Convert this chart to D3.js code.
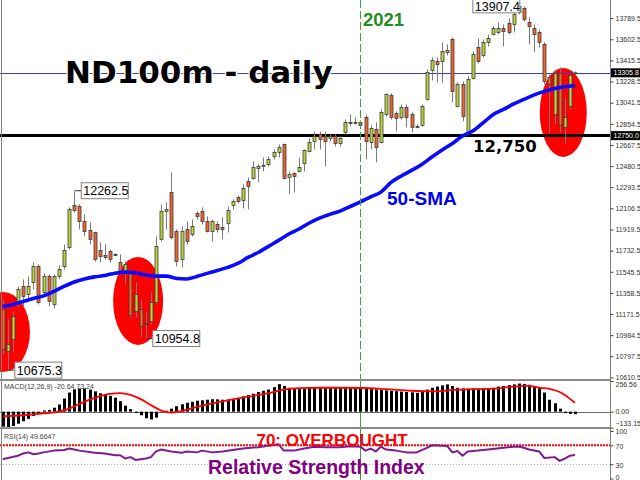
<!DOCTYPE html>
<html><head><meta charset="utf-8">
<script src="https://cdn.jsdelivr.net/npm/d3@7"></script>
<style>body{margin:0;background:#fff;}svg{display:block;font-family:"Liberation Sans",Arial,sans-serif;}</style>
</head><body><svg id="chart" width="640" height="480"></svg>
<script>
// ---------- DATA ----------
const opens = [11212,10840,10947,11274,11416,11345,11451,11593,11363,11504,
11256,11504,11593,11761,12132,12124,11991,11911,11893,11734,
11690,11725,11699,11628,11540,11540,11194,11212,11079,11106,
11274,11832,12079,12247,11902,11655,11920,11876,12062,12079,
11991,11902,11964,11938,11973,12132,12203,12177,12345,12371,
12460,12486,12495,12566,12601,12672,12380,12415,12433,12504,
12610,12699,12761,12743,12725,12743,12681,12778,12867,12867,
12867,12911,12690,12805,12690,12938,13106,12946,12911,12999,
12938,12831,12840,13070,13327,13406,13406,13486,13601,13008,
13203,12778,13256,13530,13460,13575,13645,13663,13698,13743,
13734,13840,13875,13752,13698,13663,13557,13265,12938,13300,
12823,13008,13300];
const highs = [11300,11124,11194,11416,11478,11504,11628,11610,11531,11522,
11522,11601,11787,12115,12262.5,12141,12053,11982,11900,11805,
11787,11743,11708,11699,11637,11566,11451,11301,11194,11363,
11858,12141,12159,12424,11920,11947,11991,12008,12079,12115,
12035,12008,11991,12026,12124,12185,12221,12318,12380,12522,
12495,12557,12566,12628,12672,12680,12433,12424,12557,12628,
12725,12787,12787,12787,12761,12761,12743,12893,12938,12911,
12884,12938,12840,12867,12982,13123,13123,12964,13026,13026,
12955,12849,13026,13336,13442,13442,13575,13557,13619,13221,
13230,13274,13495,13610,13601,13645,13716,13752,13734,13787,
13849,13907.4,13893,13796,13734,13690,13575,13291,13336,13353,
13088,13291,13318];
const lows = [10814,10675.3,10840,11239,11239,11301,11389,11256,11327,11239,
11221,11478,11566,11743,12070,11920,11858,11787,11637,11628,
11655,11628,11690,11522,11433,11141,11141,10973,10954.8,11079,
11256,11814,11920,11832,11593,11584,11787,11858,12008,11964,
11893,11814,11893,11832,11893,12097,12150,12106,12097,12362,
12336,12433,12477,12539,12557,12362,12230,12247,12424,12433,
12601,12628,12628,12477,12699,12654,12654,12761,12831,12849,
12823,12539,12628,12513,12681,12920,12893,12787,12893,12823,
12778,12814,12831,13061,13238,13221,13221,13460,13044,12999,
12876,12769,13247,13389,13442,13539,13637,13645,13539,13645,
13663,13822,13760,13557,13486,13530,13203,12778,12849,12778,
12672,12982,13290];
const closes = [10858,10902,11150,11389,11327,11416,11593,11274,11504,11283,
11504,11566,11734,12097,12088,11991,11902,11832,11655,11681,
11672,11655,11696,11540,11610,11159,11345,11062,11088,11274,
11770,12079,12097,11849,11637,11902,11814,11947,12035,11991,
11902,11991,11920,11920,12088,12168,12168,12283,12300,12469,
12477,12488,12539,12601,12645,12371,12407,12389,12469,12619,
12690,12743,12716,12699,12743,12681,12725,12867,12866,12868,
12840,12699,12814,12645,12955,13114,12911,12902,12999,12911,
12823,12829,13008,13309,13415,13380,13495,13504,13141,13203,
12920,13247,13468,13406,13575,13610,13698,13698,13672,13663,
13822,13893,13778,13716,13645,13575,13230,13203,13300,12840,
12911,13283,13305.8];

const smaIndex = [0,2,4,6,8,10,12,14,16,18,20,22,24,26,28,30,32,34,36,38,40,42,44,46,48,50,52,54,56,58,60,62,64,66,68,70,72,74,76,78,80,82,84,86,88,90,92,94,96,98,100,102,104,106,108,110,112];
const smaValue = [11239,11256,11283,11309,11332,11371,11416,11455,11482,11500,11513,11533,11542,11537,11517,11507,11507,11486,11482,11504,11531,11557,11584,11619,11672,11716,11770,11823,11880,11924,11977,12020,12053,12082,12123,12163,12208,12250,12336,12393,12442,12495,12561,12623,12681,12747,12790,12862,12937,12982,13030,13070,13110,13141,13168,13183,13194];

const macdHist = [-125,-130,-120,-100,-80,-60,-35,-12,10,15,
33,60,110,160,187,194,194,185,170,154,
147,132,117,88,50,22,-10,-30,-55,-65,
-50,-5,8,25,45,62,75,82,92,95,
100,104,103,100,102,108,115,128,140,150,
165,175,185,205,230,215,200,192,188,190,
200,205,205,203,205,205,205,207,206,205,
204,200,195,185,182,178,175,172,168,165,
162,158,165,185,200,210,220,228,215,200,
195,192,195,193,195,195,200,210,215,222,
228,235,232,225,210,198,160,100,70,25,
-12,-18,-20.64];
const signalIndex = [0,4,8,11,13,15,18,21,23,25,27,29,31,33,35,38,41,44,48,52,55,58,62,66,70,75,80,85,88,92,96,100,103,105,107,109,110,112];
const signalValue = [-40,-30,-15,0,25,65,115,148,155,140,105,55,10,-8,5,40,70,95,125,155,185,197,200,200,198,188,175,170,182,188,192,210,215,200,190,165,140,73.24];

const rsiIndex = [0,1,3,4,5,6,7,8,10,12,13,14,15,18,20,22,23,24,25,26,28,29,30,31,33,35,36,38,39,41,43,45,47,50,52,54,55,57,59,61,63,66,68,70,71,72,73,74,75,77,79,81,83,84,86,87,88,89,90,91,93,95,98,100,101,102,103,105,106,108,109,110,111,112];
const rsiValue = [40.7,43,48,52.7,55,51,52.7,55,58.7,60,63,61,58.7,54,52.7,49,49,42,45,39,42,45,57,61,57,54,57,55,58.7,55,57,60,63,66,69,72,58.7,58.7,63,67,66,66,68,67,58.7,63,57,67,61,58.7,55,55,64.6,70,69,68,55,58,48,57,58.7,61,64.6,67,67.5,64.6,61,57,43,45,37,42,48,49.6647];

const priceTicks = [10610.5,10797.5,10984.5,11171.5,11358.5,11545.5,11732.5,11919.5,12106.5,12293.5,12480.5,12667.5,12854.5,13041.5,13228.5,13415.5,13602.5,13789.5];
const macdTicks = [256.56, 0, -133.15];
const rsiTicks = [100, 70, 30, 0];

const markIndex = [1, 28, 14, 101];
const markPrice = [10675.3, 10954.8, 12262.5, 13907.4];
const markSide = ["right", "right", "right", "left"];

const circleIndex = [0.05, 26.5, 109.7];
const circlePrice = [11012, 11287, 12955];

const supportLevel = 12750;
const lastPrice = 13305.8;
const yearStartIndex = 70;
const yearLabel = "2021";

// ---------- SCALES ----------
const svg = d3.select("#chart");
const AX = 610.5;
const n = opens.length;
const x = d3.scaleBand().domain(d3.range(n)).range([0.145, 0.145 + n * 5.11]);
const cx = i => x(0) + x.step() * (i + 0.5);
const y = d3.scaleLinear().domain([10596.6, 13950]).range([379, 0]);
const yM = d3.scaleLinear().domain([-133.15, 256.56]).range([427.6, 381]);
const yR = d3.scaleLinear().domain([0, 100]).range([478.5, 431]);

svg.append("rect").attr("width", 640).attr("height", 480).attr("fill", "#fff");
const defs = svg.append("defs");
defs.append("clipPath").attr("id", "mainClip").append("rect").attr("x", 0).attr("y", 0).attr("width", AX).attr("height", 379);
defs.append("clipPath").attr("id", "macdClip").append("rect").attr("x", 0).attr("y", 381).attr("width", AX).attr("height", 46.5);
defs.append("clipPath").attr("id", "rsiClip").append("rect").attr("x", 0).attr("y", 429).attr("width", AX).attr("height", 51);

// ---------- MAIN PANEL ----------
const g = svg.append("g").attr("clip-path", "url(#mainClip)");

const radii = [[27, 40], [25, 44], [23.5, 44.5]];
g.selectAll("ellipse.hl").data(circleIndex.map((c, k) => ({i: c, p: circlePrice[k], r: radii[k]})))
  .join("ellipse").attr("cx", d => cx(d.i)).attr("cy", d => y(d.p))
  .attr("rx", d => d.r[0]).attr("ry", d => d.r[1]).attr("fill", "#ff0000");

g.append("line").attr("x1", 0).attr("x2", AX).attr("y1", Math.round(y(lastPrice)) + 0.5).attr("y2", Math.round(y(lastPrice)) + 0.5)
  .attr("stroke", "#3c3cc8").attr("stroke-width", 1);
g.append("line").attr("x1", 0).attr("x2", AX).attr("y1", y(supportLevel)).attr("y2", y(supportLevel))
  .attr("stroke", "#000").attr("stroke-width", 3);

const yx = Math.round(cx(yearStartIndex)) + 0.5;
svg.append("line").attr("x1", yx).attr("x2", yx).attr("y1", 0).attr("y2", 379)
  .attr("stroke", "#3aa63a").attr("stroke-width", 1).attr("stroke-dasharray", "8,3");
svg.append("line").attr("x1", yx).attr("x2", yx).attr("y1", 381).attr("y2", 480)
  .attr("stroke", "#3aa63a").attr("stroke-width", 1);

const cg = g.append("g");
const idx = d3.range(n);
cg.selectAll("line.w").data(idx).join("line")
  .attr("x1", i => Math.round(cx(i)) + 0.5).attr("x2", i => Math.round(cx(i)) + 0.5)
  .attr("y1", i => y(highs[i])).attr("y2", i => y(lows[i]))
  .attr("stroke", "#7a7a7a").attr("stroke-width", 1);
cg.selectAll("rect.b").data(idx).join("rect")
  .attr("x", i => Math.round(cx(i)) - 1)
  .attr("width", 3)
  .attr("y", i => y(Math.max(opens[i], closes[i])))
  .attr("height", i => Math.max(1, Math.abs(y(opens[i]) - y(closes[i]))))
  .attr("fill", i => closes[i] >= opens[i] ? "#bcd43a" : "#f0652b")
  .attr("stroke", "#3a3a3a").attr("stroke-width", 0.8);

const smaPts = smaIndex.map((k, j) => [cx(k), y(smaValue[j])]);
g.append("path").attr("d", d3.line().curve(d3.curveMonotoneX)(smaPts))
  .attr("fill", "none").attr("stroke", "#0a0aff").attr("stroke-width", 3.6).attr("stroke-linejoin", "round");

// high / low labels
markIndex.forEach((mi, k) => {
  const px = cx(mi), py = y(markPrice[k]);
  const bw = 47, bh = 16;
  const bx = markSide[k] === "right" ? px + 7 : px - bw + 1;
  const ex = markSide[k] === "right" ? bx : bx + bw;
  const by = Math.max(py - bh / 2, -4);
  const ty = Math.max(py + 4.5, 10.5);
  svg.append("path").attr("d", `M${px + 1},${py} H${ex}`).attr("stroke", "#333").attr("fill", "none");
  svg.append("rect").attr("x", bx).attr("y", by).attr("width", bw).attr("height", bh)
    .attr("fill", "#fff").attr("stroke", "#808080").attr("stroke-width", 1);
  svg.append("text").attr("x", bx + 2).attr("y", ty).attr("font-size", 12.5).attr("fill", "#000")
    .text(d3.format(".1f")(markPrice[k]));
});

// annotations
svg.append("text").attr("x", 65).attr("y", 83).attr("font-family", "DejaVu Sans").attr("font-weight", "bold")
  .attr("font-size", 31).attr("fill", "#000").attr("stroke", "#fff").attr("stroke-width", 2.5)
  .attr("paint-order", "stroke").text("ND100m - daily");
svg.append("text").attr("x", 363).attr("y", 26).attr("font-weight", "bold").attr("font-size", 18.5)
  .attr("fill", "#238c23").text(yearLabel);
svg.append("text").attr("x", 473).attr("y", 152).attr("font-family", "DejaVu Sans").attr("font-weight", "bold")
  .attr("font-size", 16.5).attr("fill", "#000").text(d3.format(",")(supportLevel));
svg.append("text").attr("x", 387).attr("y", 205).attr("font-weight", "bold").attr("font-size", 19)
  .attr("fill", "#0000ee").text("50-SMA");

// ---------- MACD PANEL ----------
const gm = svg.append("g").attr("clip-path", "url(#macdClip)");
gm.append("line").attr("x1", 0).attr("x2", AX).attr("y1", Math.round(yM(0)) + 0.5).attr("y2", Math.round(yM(0)) + 0.5)
  .attr("stroke", "#6a6a6a").attr("stroke-width", 1);
gm.selectAll("rect.h").data(idx).join("rect")
  .attr("x", i => Math.round(cx(i)) - 1).attr("width", 3)
  .attr("y", i => Math.min(yM(0), yM(macdHist[i])))
  .attr("height", i => Math.abs(yM(macdHist[i]) - yM(0)))
  .attr("fill", "#000");
gm.append("path").attr("d", d3.line().curve(d3.curveMonotoneX)(signalIndex.map((k, j) => [cx(k), yM(signalValue[j])])))
  .attr("fill", "none").attr("stroke", "#ff0000").attr("stroke-width", 1.8);
svg.append("text").attr("x", 4).attr("y", 389).attr("font-size", 7).attr("fill", "#404040")
  .text(`MACD(12,26,9) ${macdHist[n - 1]} ${signalValue[signalValue.length - 1]}`);

// ---------- RSI PANEL ----------
const gr = svg.append("g").attr("clip-path", "url(#rsiClip)");
gr.append("line").attr("x1", 0).attr("x2", AX).attr("y1", yR(70)).attr("y2", yR(70))
  .attr("stroke", "#ff0000").attr("stroke-width", 2).attr("stroke-dasharray", "2,1");
gr.append("line").attr("x1", 0).attr("x2", AX).attr("y1", Math.round(yR(30)) + 0.5).attr("y2", Math.round(yR(30)) + 0.5)
  .attr("stroke", "#b0b0b0").attr("stroke-width", 1).attr("stroke-dasharray", "1,2");
gr.append("path").attr("d", d3.line()(rsiIndex.map((k, j) => [cx(k), yR(rsiValue[j])])))
  .attr("fill", "none").attr("stroke", "#7f1a90").attr("stroke-width", 2).attr("stroke-linejoin", "round");
svg.append("text").attr("x", 4).attr("y", 439).attr("font-size", 7).attr("fill", "#404040")
  .text(`RSI(14) ${rsiValue[rsiValue.length - 1]}`);
svg.append("text").attr("x", 332).attr("y", 446).attr("text-anchor", "middle").attr("font-weight", "bold")
  .attr("font-size", 17).attr("fill", "#ff0000").text("70: OVERBOUGHT");
svg.append("text").attr("x", 208).attr("y", 474).attr("font-weight", "bold").attr("font-size", 19.5)
  .attr("fill", "#800080").text("Relative Strength Index");

// ---------- FRAMES & AXES ----------
svg.append("line").attr("x1", 1.5).attr("x2", 1.5).attr("y1", 0).attr("y2", 480).attr("stroke", "#808080");
svg.append("line").attr("x1", AX).attr("x2", AX).attr("y1", 0).attr("y2", 480).attr("stroke", "#808080");
svg.append("line").attr("x1", 0).attr("x2", AX).attr("y1", 380).attr("y2", 380).attr("stroke", "#8a8a8a").attr("stroke-width", 2);
svg.append("line").attr("x1", 0).attr("x2", AX).attr("y1", 428).attr("y2", 428).attr("stroke", "#8a8a8a").attr("stroke-width", 2);

function styleAxis(sel) {
  sel.select(".domain").remove();
  sel.selectAll("line").attr("stroke", "#404040");
  sel.selectAll("text").attr("font-size", 7).attr("fill", "#333").attr("font-family", "Liberation Sans");
}
svg.append("g").attr("transform", `translate(${AX},0)`)
  .call(d3.axisRight(y).tickValues(priceTicks).tickFormat(d3.format(".1f")).tickSize(3).tickPadding(2))
  .call(styleAxis);
const am = svg.append("g").attr("transform", `translate(${AX},0)`)
  .call(d3.axisRight(yM).tickValues(macdTicks).tickFormat(d3.format(".2f")).tickSize(3).tickPadding(2))
  .call(styleAxis);
am.selectAll("text").attr("dy", d => d > 200 ? "0.85em" : (d < -100 ? "-0.3em" : "0.32em"));
const ar = svg.append("g").attr("transform", `translate(${AX},0)`)
  .call(d3.axisRight(yR).tickValues(rsiTicks).tickSize(3).tickPadding(2))
  .call(styleAxis);
ar.selectAll("text").attr("dy", d => d === 0 ? "0.1em" : "0.4em");

[lastPrice, supportLevel].forEach(p => {
  const py = y(p);
  svg.append("rect").attr("x", AX + 0.5).attr("y", py - 4.5).attr("width", 29).attr("height", 9).attr("fill", "#000");
  svg.append("text").attr("x", AX + 3).attr("y", py + 2.5).attr("font-size", 7).attr("fill", "#fff")
    .text(d3.format(".1f")(p));
});
</script></body></html>
